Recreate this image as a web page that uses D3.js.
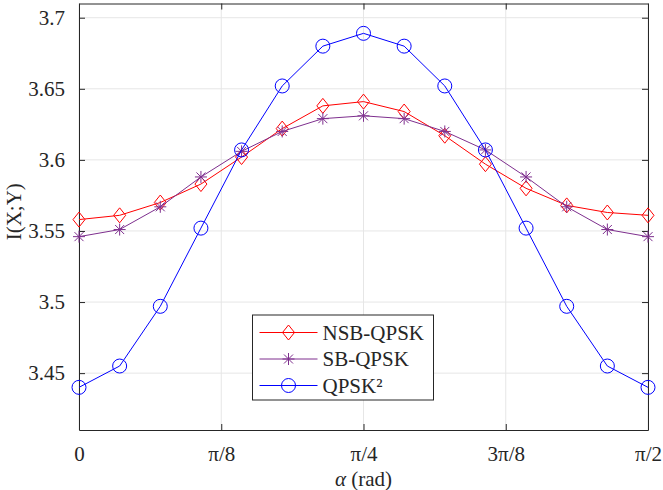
<!DOCTYPE html>
<html>
<head>
<meta charset="utf-8">
<script src="https://cdn.jsdelivr.net/npm/d3@7"></script>
<style>
html,body{margin:0;padding:0;background:#fff;}
svg{display:block;}
svg text{font-family:"Liberation Serif","Times New Roman",Times,serif !important;fill:#262626;}
</style>
</head>
<body>
<svg id="chart" width="663" height="490"></svg>
<script>
// ---- data ----
const alphaValues = [0, 0.1122, 0.2244, 0.3366, 0.4488, 0.5610, 0.6732, 0.7854, 0.8976, 1.0098, 1.1220, 1.2342, 1.3464, 1.4586, 1.5708];
const nsbQpsk = [3.558, 3.561, 3.570, 3.583, 3.602, 3.622, 3.638, 3.641, 3.634, 3.617, 3.597, 3.580, 3.568, 3.563, 3.561];
const sbQpsk  = [3.546, 3.551, 3.567, 3.588, 3.606, 3.620, 3.629, 3.631, 3.629, 3.620, 3.607, 3.588, 3.567, 3.551, 3.546];
const qpsk2   = [3.440, 3.455, 3.497, 3.552, 3.607, 3.652, 3.680, 3.689, 3.680, 3.652, 3.607, 3.552, 3.497, 3.455, 3.440];
const seriesNames = ["NSB-QPSK", "SB-QPSK", "QPSK\u00B2"];
const xTickValues = [0, 0.3927, 0.7854, 1.1781, 1.5708];
const xTickLabels = ["0", "\u03C0/8", "\u03C0/4", "3\u03C0/8", "\u03C0/2"];
const yTickValues = [3.45, 3.5, 3.55, 3.6, 3.65, 3.7];
const yTickLabels = ["3.45", "3.5", "3.55", "3.6", "3.65", "3.7"];

// ---- layout ----
const L = 79, R = 648, T = 3.5, B = 430;
const FONT = "'Liberation Serif', 'Times New Roman', Times, serif";
const svg = d3.select("#chart");
const x = d3.scaleLinear().domain([0, 1.5708]).range([L, R]);
const y = d3.scaleLinear().domain([3.41, 3.71]).range([B, T]);
const axisColor = "#262626";
const gridColor = "#e6e6e6";
const fs = 21;

// grid
const grid = svg.append("g");
xTickValues.forEach(v => {
  grid.append("line").attr("x1", x(v)).attr("x2", x(v)).attr("y1", T).attr("y2", B)
    .attr("stroke", gridColor).attr("stroke-width", 1);
});
yTickValues.forEach(v => {
  grid.append("line").attr("x1", L).attr("x2", R).attr("y1", y(v)).attr("y2", y(v))
    .attr("stroke", gridColor).attr("stroke-width", 1);
});

// axes via d3 axis generators
const xAxis = d3.axisBottom(x).tickValues(xTickValues).tickFormat((d, i) => xTickLabels[i]).tickSizeInner(-6).tickSizeOuter(0).tickPadding(16);
const gx = svg.append("g").attr("transform", `translate(0,${B})`).call(xAxis).attr("font-family", null).attr("font-size", null);
gx.select(".domain").attr("stroke", axisColor);
gx.selectAll(".tick line").attr("stroke", axisColor);
gx.selectAll(".tick text").style("font-size", fs + "px").style("font-family", FONT).attr("fill", axisColor);

const xAxisTop = d3.axisTop(x).tickValues(xTickValues).tickFormat("").tickSizeInner(-6).tickSizeOuter(0);
const gxt = svg.append("g").attr("transform", `translate(0,${T})`).call(xAxisTop);
gxt.select(".domain").attr("stroke", axisColor);
gxt.selectAll(".tick line").attr("stroke", axisColor);

const yAxis = d3.axisLeft(y).tickValues(yTickValues).tickFormat((d, i) => yTickLabels[i]).tickSizeInner(-6).tickSizeOuter(0).tickPadding(14);
const gy = svg.append("g").attr("transform", `translate(${L},0)`).call(yAxis).attr("font-family", null).attr("font-size", null);
gy.select(".domain").attr("stroke", axisColor);
gy.selectAll(".tick line").attr("stroke", axisColor);
gy.selectAll(".tick text").style("font-size", fs + "px").style("font-family", FONT).attr("fill", axisColor);

const yAxisRight = d3.axisRight(y).tickValues(yTickValues).tickFormat("").tickSizeInner(-6).tickSizeOuter(0);
const gyr = svg.append("g").attr("transform", `translate(${R},0)`).call(yAxisRight);
gyr.select(".domain").attr("stroke", axisColor);
gyr.selectAll(".tick line").attr("stroke", axisColor);

// axis titles
const xt = svg.append("text").attr("x", (L + R) / 2).attr("y", 486).attr("text-anchor", "middle")
  .style("font-size", fs + "px").style("font-family", FONT);
xt.append("tspan").attr("font-style", "italic").text("\u03B1");
xt.append("tspan").text(" (rad)");
svg.append("text").attr("transform", `translate(21,${(T + B) / 2 - 5}) rotate(-90)`)
  .attr("text-anchor", "middle").style("font-size", fs + "px").style("font-family", FONT).text("I(X;Y)");

// markers
function drawMarker(g, type, cx, cy, color) {
  if (type === "diamond") {
    const r = 7.5;
    g.append("path").attr("d", `M${cx},${cy - r}L${cx + r * 0.8},${cy}L${cx},${cy + r}L${cx - r * 0.8},${cy}Z`)
      .attr("fill", "none").attr("stroke", color).attr("stroke-width", 1);
  } else if (type === "circle") {
    g.append("circle").attr("cx", cx).attr("cy", cy).attr("r", 7)
      .attr("fill", "none").attr("stroke", color).attr("stroke-width", 1);
  } else {
    const r = 6, d = 4.5;
    g.append("path").attr("d",
      `M${cx - r},${cy}L${cx + r},${cy}M${cx},${cy - r}L${cx},${cy + r}` +
      `M${cx - d},${cy - d}L${cx + d},${cy + d}M${cx - d},${cy + d}L${cx + d},${cy - d}`)
      .attr("fill", "none").attr("stroke", color).attr("stroke-width", 1);
  }
}

const series = [
  { name: seriesNames[0], values: nsbQpsk, color: "#ff0000", marker: "diamond" },
  { name: seriesNames[1], values: sbQpsk, color: "#7e2f8e", marker: "star" },
  { name: seriesNames[2], values: qpsk2, color: "#0000ff", marker: "circle" }
];

const line = d3.line().x(d => x(d[0])).y(d => y(d[1]));
series.forEach(s => {
  const pts = alphaValues.map((a, i) => [a, s.values[i]]);
  const g = svg.append("g");
  g.append("path").datum(pts).attr("d", line).attr("fill", "none").attr("stroke", s.color).attr("stroke-width", 1);
  pts.forEach(p => drawMarker(g, s.marker, x(p[0]), y(p[1]), s.color));
});

// legend
const lg = svg.append("g");
const lx = 252.5, ly = 315, lw = 181, lh = 85;
lg.append("rect").attr("x", lx).attr("y", ly).attr("width", lw).attr("height", lh)
  .attr("fill", "#fff").attr("stroke", axisColor).attr("stroke-width", 1);
series.forEach((s, i) => {
  const cy = 332.5 + i * 26.5;
  lg.append("line").attr("x1", lx + 7).attr("x2", lx + 65).attr("y1", cy).attr("y2", cy)
    .attr("stroke", s.color).attr("stroke-width", 1);
  drawMarker(lg, s.marker, lx + 36, cy, s.color);
  lg.append("text").attr("x", lx + 70).attr("y", cy + 7).style("font-size", fs + "px").style("font-family", FONT).text(s.name);
});
</script>
</body>
</html>
